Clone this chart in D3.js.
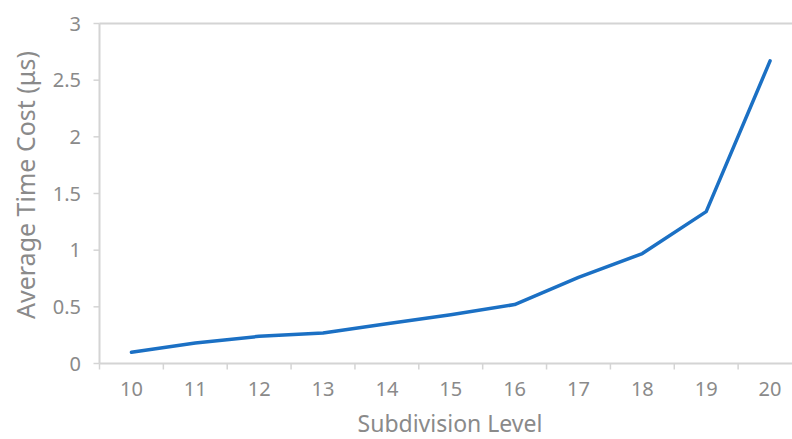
<!DOCTYPE html>
<html lang="en">
<head>
<meta charset="UTF-8">
<script src="https://d3js.org/d3.v7.min.js"></script>
<style>
  body { margin: 0; background: #fff; }
  svg { display: block; font-family: "Noto Sans", "DejaVu Sans", sans-serif; }
</style>
</head>
<body>
<svg width="792" height="439"></svg>
<script>
    // chart data
    var levels = [10, 11, 12, 13, 14, 15, 16, 17, 18, 19, 20];
    var timeCost = [0.10, 0.18, 0.24, 0.27, 0.35, 0.43, 0.52, 0.76, 0.97, 1.34, 2.67];
    var yTicks = [0, 0.5, 1, 1.5, 2, 2.5, 3];

    var data = levels.map(function(d, i) { return { level: d, value: timeCost[i] }; });

    var svg = d3.select("svg"),
        plotLeft = 99.5, plotRight = 802, plotTop = 23.5, plotBottom = 363.5;

    var x = d3.scaleBand()
        .domain(levels)
        .range([plotLeft, plotRight]);

    var y = d3.scaleLinear()
        .domain([0, 3])
        .range([plotBottom, plotTop]);

    var axisColor = "#d4d4d4",
        textColor = "#8a8a8a";

    // top line at y = 3
    svg.append("line")
        .attr("x1", plotLeft).attr("x2", 792)
        .attr("y1", y(3)).attr("y2", y(3))
        .attr("stroke", axisColor).attr("stroke-width", 2);

    // y axis
    svg.append("line")
        .attr("x1", plotLeft).attr("x2", plotLeft)
        .attr("y1", plotTop).attr("y2", plotBottom)
        .attr("stroke", axisColor).attr("stroke-width", 2);

    var yTick = svg.append("g").selectAll("g")
        .data(yTicks)
        .enter().append("g")
        .attr("transform", function(d) { return "translate(0," + y(d) + ")"; });

    yTick.append("line")
        .attr("x1", plotLeft - 6).attr("x2", plotLeft)
        .attr("stroke", axisColor).attr("stroke-width", 1.5);

    yTick.append("text")
        .attr("x", 81)
        .attr("dy", "0.36em")
        .attr("text-anchor", "end")
        .attr("fill", textColor)
        .attr("font-size", 20)
        .text(function(d) { return d; });

    // x axis
    svg.append("line")
        .attr("x1", plotLeft).attr("x2", 792)
        .attr("y1", plotBottom).attr("y2", plotBottom)
        .attr("stroke", axisColor).attr("stroke-width", 2);

    svg.append("g").selectAll("line")
        .data(levels)
        .enter().append("line")
        .attr("x1", function(d) { return x(d); })
        .attr("x2", function(d) { return x(d); })
        .attr("y1", plotBottom).attr("y2", plotBottom + 6)
        .attr("stroke", axisColor).attr("stroke-width", 1.5);

    svg.append("g").selectAll("text")
        .data(levels)
        .enter().append("text")
        .attr("x", function(d) { return x(d) + x.bandwidth() / 2; })
        .attr("y", 396)
        .attr("text-anchor", "middle")
        .attr("fill", textColor)
        .attr("font-size", 20)
        .text(function(d) { return d; });

    // line
    var line = d3.line()
        .x(function(d) { return x(d.level) + x.bandwidth() / 2; })
        .y(function(d) { return y(d.value); });

    svg.append("path")
        .datum(data)
        .attr("d", line)
        .attr("fill", "none")
        .attr("stroke", "#1b70c4")
        .attr("stroke-width", 3.5)
        .attr("stroke-linecap", "round")
        .attr("stroke-linejoin", "round");

    // axis titles
    svg.append("text")
        .attr("x", 450)
        .attr("y", 432)
        .attr("text-anchor", "middle")
        .attr("fill", textColor)
        .attr("font-size", 23)
        .text("Subdivision Level");

    svg.append("text")
        .attr("transform", "translate(35,185)rotate(-90)")
        .attr("text-anchor", "middle")
        .attr("fill", textColor)
        .attr("font-size", 25)
        .text("Average Time Cost (μs)");
</script>
</body>
</html>
